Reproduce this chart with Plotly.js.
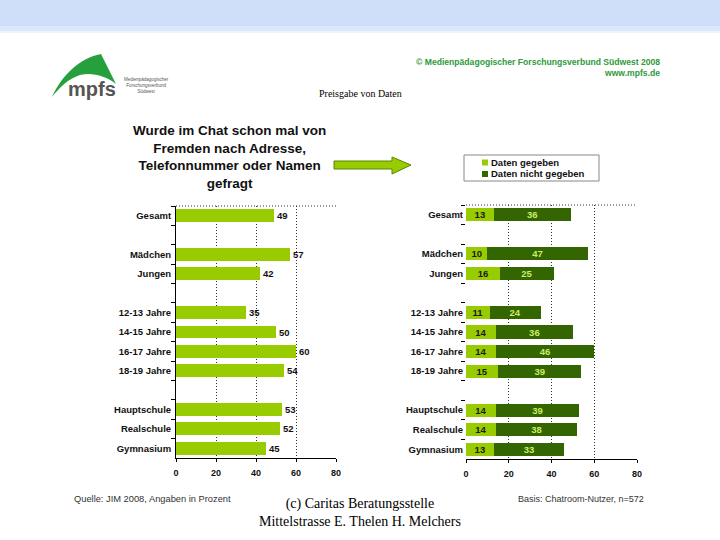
<!DOCTYPE html>
<html>
<head>
<meta charset="utf-8">
<script src="https://cdn.plot.ly/plotly-3.0.1.min.js"></script>
<style>html,body{margin:0;padding:0;background:#fff;}#chart{width:720px;height:540px;}</style>
</head>
<body>
<div id="chart"></div>
<script>
// ---- data ----
const categories = ["Gesamt", " ", "Mädchen", "Jungen", "  ", "12-13 Jahre", "14-15 Jahre", "16-17 Jahre", "18-19 Jahre", "   ", "Hauptschule", "Realschule", "Gymnasium"];
const groups = ["Gesamt", "Mädchen", "Jungen", "12-13 Jahre", "14-15 Jahre", "16-17 Jahre", "18-19 Jahre", "Hauptschule", "Realschule", "Gymnasium"];
const gefragt = [49, 57, 42, 35, 50, 60, 54, 53, 52, 45];
const datenGegeben = [13, 10, 16, 11, 14, 14, 15, 14, 14, 13];
const datenNichtGegeben = [36, 47, 25, 24, 36, 46, 39, 39, 38, 33];
const xTicks = [0, 20, 40, 60, 80];
const seriesNames = ["Daten gegeben", "Daten nicht gegeben"];

// ---- styling ----
const LIGHT = "#99cc00";
const DARK = "#336600";
const SANS = "Liberation Sans, Arial, sans-serif";
const SERIF = "Liberation Serif, Times New Roman, serif";
const DOT = "1px,2px";
const px = x => x / 720;
const py = y => 1 - y / 540;

const traces = [
  {
    type: "bar", orientation: "h", x: gefragt, y: groups,
    xaxis: "x", yaxis: "y", showlegend: false,
    marker: {color: LIGHT},
    text: gefragt.map(String), textposition: "outside", cliponaxis: false, constraintext: "none", textangle: 0,
    textfont: {family: SANS, size: 9.5, color: "#111", weight: "bold"},
    hoverinfo: "x+y"
  },
  {
    type: "bar", orientation: "h", x: datenGegeben, y: groups, name: seriesNames[0],
    xaxis: "x2", yaxis: "y2", showlegend: false,
    marker: {color: LIGHT},
    text: datenGegeben.map(String), textposition: "inside", insidetextanchor: "middle", constraintext: "none", textangle: 0,
    textfont: {family: SANS, size: 9.5, color: "#1a1a1a", weight: "bold"},
    hoverinfo: "x+y+name"
  },
  {
    type: "bar", orientation: "h", x: datenNichtGegeben, y: groups, name: seriesNames[1],
    xaxis: "x2", yaxis: "y2", showlegend: false,
    marker: {color: DARK},
    text: datenNichtGegeben.map(String), textposition: "inside", insidetextanchor: "middle", constraintext: "none", textangle: 0,
    textfont: {family: SANS, size: 9.5, color: "#ccee66", weight: "bold"},
    hoverinfo: "x+y+name"
  }
];

function xAxis(domain, anchor) {
  return {
    domain: domain, anchor: anchor, range: [0, 80], tickvals: xTicks,
    showgrid: true, gridcolor: "#333", griddash: DOT, gridwidth: 1,
    zeroline: false, showline: true, linecolor: "#000", linewidth: 1,
    ticks: "outside", ticklen: 3, tickcolor: "#000",
    tickfont: {family: SANS, size: 9, color: "#111", weight: "bold"},
    ticklabelstandoff: 3, fixedrange: true
  };
}
function yAxis(domain, anchor, solid) {
  return {
    domain: domain, anchor: anchor, type: "category",
    categoryorder: "array", categoryarray: categories,
    range: [categories.length - 0.5, -0.5],
    tickson: "boundaries", ticks: "outside", ticklen: 4, tickcolor: "#000",
    showline: solid, linecolor: "#000", linewidth: 1,
    showgrid: false, zeroline: false,
    tickfont: {family: SANS, size: 9.5, color: "#111", weight: "bold"},
    ticklabelstandoff: 2, fixedrange: true
  };
}

const shapes = [
  // top band
  {type: "rect", xref: "paper", yref: "paper", x0: 0, x1: 1, y0: py(31), y1: 1, line: {width: 0}, fillcolor: "#cfdffa", layer: "below"},
  {type: "rect", xref: "paper", yref: "paper", x0: 0, x1: 1, y0: py(31), y1: py(26), line: {width: 0}, fillcolor: "#dbe7fb", layer: "below"},
  {type: "rect", xref: "paper", yref: "paper", x0: 0, x1: 1, y0: py(33), y1: py(31), line: {width: 0}, fillcolor: "#eef3fd", layer: "below"},
  // logo swoosh
  {type: "path", xref: "paper", yref: "paper",
   path: `M ${px(52)} ${py(97)} C ${px(62)} ${py(75)}, ${px(80)} ${py(58)}, ${px(101)} ${py(54)} L ${px(116)} ${py(84)} C ${px(106)} ${py(76)}, ${px(92)} ${py(72)}, ${px(80)} ${py(75)} C ${px(68)} ${py(79)}, ${px(60)} ${py(87)}, ${px(52)} ${py(97)} Z`,
   fillcolor: "#25a03c", line: {width: 0}},
  // arrow
  {type: "path", xref: "paper", yref: "paper",
   path: `M ${px(334)} ${py(161)} L ${px(392)} ${py(161)} L ${px(392)} ${py(157)} L ${px(411)} ${py(165)} L ${px(392)} ${py(174)} L ${px(392)} ${py(169)} L ${px(334)} ${py(169)} Z`,
   fillcolor: LIGHT, line: {color: "#5a8500", width: 1}},
  // dotted top borders of plot areas
  {type: "line", xref: "x domain", yref: "y domain", x0: 0, x1: 1, y0: 1, y1: 1, line: {color: "#333", width: 1, dash: DOT}},
  {type: "line", xref: "x2 domain", yref: "y2 domain", x0: 0, x1: 1, y0: 1, y1: 1, line: {color: "#333", width: 1, dash: DOT}},
  // legend box and swatches
  {type: "rect", xref: "paper", yref: "paper", x0: px(464), x1: px(599), y0: py(181), y1: py(155), line: {color: "#888", width: 1}, fillcolor: "#fff"},
  {type: "rect", xref: "paper", yref: "paper", x0: px(482), x1: px(488), y0: py(165.5), y1: py(159.5), line: {width: 0}, fillcolor: LIGHT},
  {type: "rect", xref: "paper", yref: "paper", x0: px(482), x1: px(488), y0: py(177), y1: py(171), line: {width: 0}, fillcolor: DARK}
];

const annotations = [
  {xref: "paper", yref: "paper", x: px(229), y: py(157), xanchor: "center", yanchor: "middle", showarrow: false,
   text: "Wurde im Chat schon mal von<br>Fremden nach Adresse,<br>Telefonnummer oder Namen<br>gefragt",
   font: {family: SANS, size: 13.5, color: "#111", weight: "bold"}},
  {xref: "paper", yref: "paper", x: px(360), y: py(94), xanchor: "center", yanchor: "middle", showarrow: false,
   text: "Preisgabe von Daten", font: {family: SERIF, size: 10, color: "#000"}},
  {xref: "paper", yref: "paper", x: px(662), y: py(62), xanchor: "right", yanchor: "middle", showarrow: false,
   text: "© Medienpädagogischer Forschungsverbund Südwest 2008", font: {family: SANS, size: 8.6, color: "#2e9a3a", weight: "bold"}},
  {xref: "paper", yref: "paper", x: px(662), y: py(73), xanchor: "right", yanchor: "middle", showarrow: false,
   text: "www.mpfs.de", font: {family: SANS, size: 8.6, color: "#2e9a3a", weight: "bold"}},
  {xref: "paper", yref: "paper", x: px(66), y: py(89), xanchor: "left", yanchor: "middle", showarrow: false,
   text: "mpfs", font: {family: SANS, size: 20, color: "#555", weight: "bold"}},
  {xref: "paper", yref: "paper", x: px(146), y: py(85), xanchor: "center", yanchor: "middle", showarrow: false,
   text: "Medienpädagogischer<br>Forschungsverbund<br>Südwest", font: {family: SANS, size: 4.5, color: "#555"}},
  {xref: "paper", yref: "paper", x: px(490), y: py(162.5), xanchor: "left", yanchor: "middle", showarrow: false, borderpad: 0,
   text: seriesNames[0], font: {family: SANS, size: 9.5, color: "#111", weight: "bold"}},
  {xref: "paper", yref: "paper", x: px(490), y: py(174), xanchor: "left", yanchor: "middle", showarrow: false, borderpad: 0,
   text: seriesNames[1], font: {family: SANS, size: 9.5, color: "#111", weight: "bold"}},
  {xref: "paper", yref: "paper", x: px(72), y: py(499), xanchor: "left", yanchor: "middle", showarrow: false,
   text: "Quelle: JIM 2008, Angaben in Prozent", font: {family: SANS, size: 9.3, color: "#333"}},
  {xref: "paper", yref: "paper", x: px(516), y: py(499), xanchor: "left", yanchor: "middle", showarrow: false,
   text: "Basis: Chatroom-Nutzer, n=572", font: {family: SANS, size: 9, color: "#333"}},
  {xref: "paper", yref: "paper", x: px(360), y: py(512.5), xanchor: "center", yanchor: "middle", showarrow: false,
   text: "(c) Caritas Beratungsstelle<br>Mittelstrasse E. Thelen H. Melchers", font: {family: SERIF, size: 14, color: "#000"}}
];

const layout = {
  width: 720, height: 540,
  margin: {l: 0, r: 0, t: 0, b: 0},
  paper_bgcolor: "#fff", plot_bgcolor: "rgba(0,0,0,0)",
  barmode: "stack", bargap: 0.33,
  xaxis: xAxis([px(176), px(336)], "y"),
  yaxis: yAxis([py(458), py(206)], "x", true),
  xaxis2: xAxis([px(466), px(637)], "y2"),
  yaxis2: yAxis([py(459), py(205)], "x2", false),
  showlegend: false,
  shapes: shapes,
  annotations: annotations,
  font: {family: SANS}
};

Plotly.newPlot("chart", traces, layout, {displayModeBar: false, staticPlot: true});
</script>
</body>
</html>
